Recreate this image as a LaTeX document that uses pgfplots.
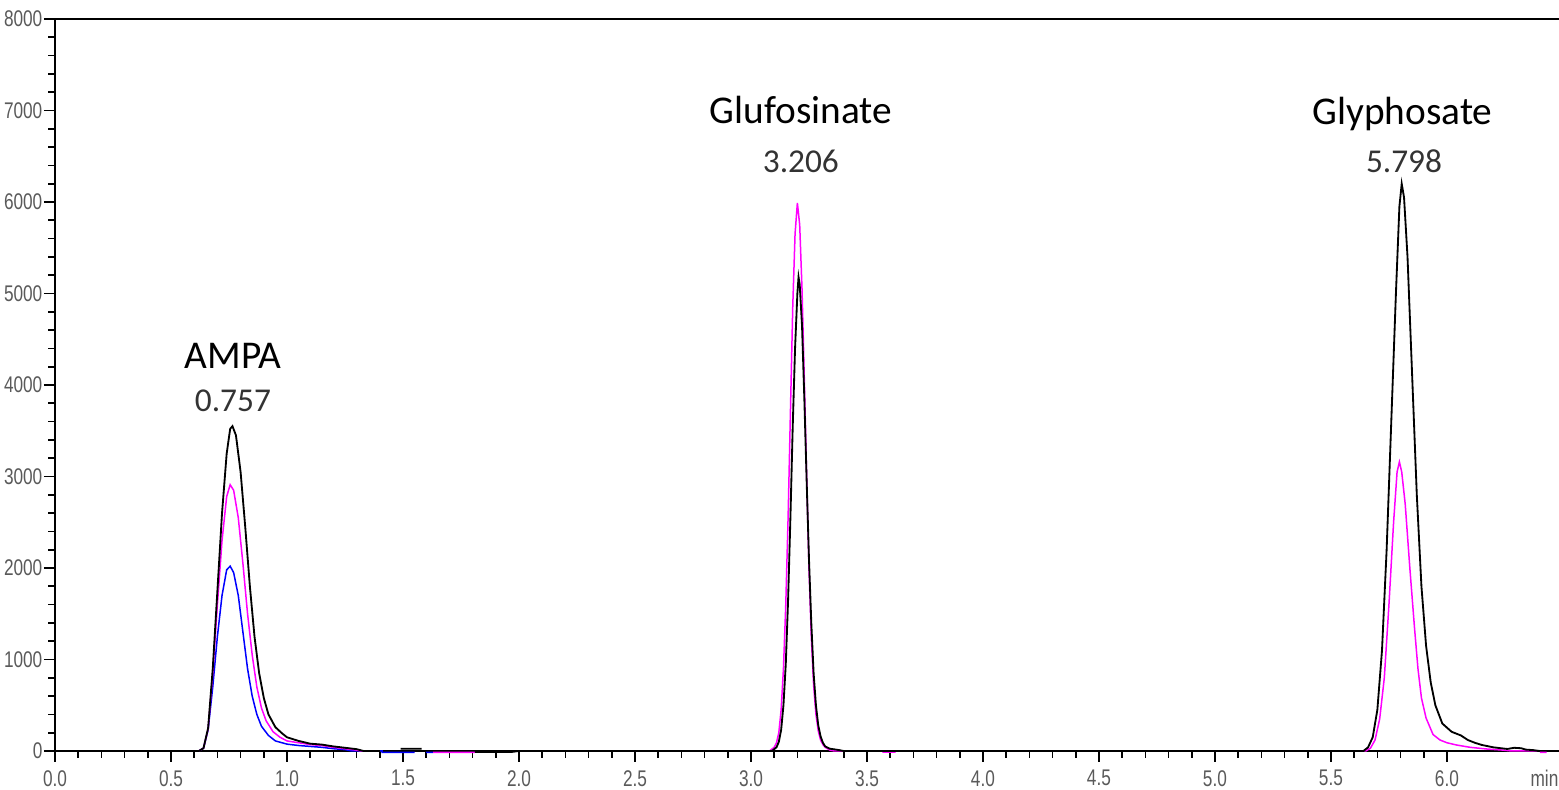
\documentclass[border=0pt]{standalone}
\usepackage{pgfplots}
\pgfplotsset{compat=1.18}
\usepackage{fontspec}
\newfontfamily\tickfont[FakeStretch=0.76]{Liberation Sans}
\newfontfamily\annfont{Carlito}
\definecolor{mag}{RGB}{255,0,255}
\definecolor{blu}{RGB}{0,0,255}
\definecolor{tickgray}{RGB}{90,90,90}
\begin{document}
\begin{tikzpicture}
\begin{axis}[
  name=ax,
  scale only axis,
  width=451.2pt, height=219.6pt,
  xmin=0, xmax=6.483,
  ymin=0, ymax=8000,
  axis x line*=bottom, axis y line*=left,
  axis line style={line width=0.6pt},
  clip=false,
  unbounded coords=jump,
  tick align=outside,
  major tick length=3.3pt, minor tick length=2pt,
  every tick/.style={black, line width=0.5pt},
  xtick={0,0.5,...,6.01}, minor x tick num=4,
  ytick={0,1000,...,8000}, minor y tick num=4,
  /pgf/number format/assume math mode=true,
  ticklabel style={font=\tickfont\fontsize{6.8}{8}\selectfont, text=tickgray},
  xticklabel style={/pgf/number format/fixed, /pgf/number format/fixed zerofill, /pgf/number format/precision=1, inner sep=0pt, yshift=-2.3pt},
  yticklabel style={/pgf/number format/1000 sep={}, inner sep=0pt, xshift=-0.3pt},
]
% blue series
\addplot[blu, line width=0.45pt] coordinates {
(0.10,0) (0.62,0) (0.64,30) (0.66,230) (0.68,700) (0.70,1250) (0.72,1700) (0.74,1980) (0.755,2020) (0.77,1950) (0.79,1700) (0.81,1300) (0.83,900) (0.85,600) (0.87,400) (0.89,270) (0.92,170) (0.95,110) (1.00,75) (1.05,60) (1.10,50) (1.15,40) (1.20,25) (1.25,15) (1.28,0) (1.41,0) (1.41,-15) (1.55,-15) (1.55,nan)
(1.60,-15) (1.63,-15)
};
% magenta series
\addplot[mag, line width=0.45pt] coordinates {
(0.10,0) (0.62,0) (0.64,30) (0.66,240) (0.68,850) (0.70,1600) (0.72,2300) (0.74,2780) (0.755,2910) (0.77,2850) (0.79,2550) (0.81,2050) (0.83,1500) (0.85,1050) (0.87,700) (0.89,470) (0.91,330) (0.94,210) (0.97,150) (1.00,110) (1.05,90) (1.10,70) (1.15,60) (1.20,40) (1.25,25) (1.30,10) (1.32,0) (1.38,0) (1.38,nan)
(1.63,-15) (1.81,-15) (1.81,nan)
(2.00,0) (3.08,0) (3.10,40) (3.11,90) (3.12,200) (3.13,450) (3.14,900) (3.15,1600) (3.16,2550) (3.17,3700) (3.18,4850) (3.19,5650) (3.20,5990) (3.21,5750) (3.22,5050) (3.23,4050) (3.24,3000) (3.25,2000) (3.26,1250) (3.27,720) (3.28,400) (3.29,220) (3.30,120) (3.31,70) (3.32,40) (3.34,10) (3.36,0) (3.57,0) (3.57,-12) (3.62,-12) (3.62,0)
(5.65,0) (5.67,30) (5.69,120) (5.71,350) (5.73,800) (5.75,1600) (5.77,2500) (5.785,3050) (5.795,3160) (5.805,3050) (5.82,2700) (5.84,2000) (5.86,1350) (5.875,900) (5.89,580) (5.91,360) (5.94,180) (5.97,120) (6.00,90) (6.04,66) (6.10,40) (6.17,22) (6.24,10) (6.28,0) (6.39,0) (6.39,nan)
(6.40,-15) (6.43,-15)
};
% black series
\addplot[black, line width=0.55pt] coordinates {
(0.10,0) (0.62,0) (0.64,30) (0.66,250) (0.68,900) (0.70,1750) (0.72,2600) (0.74,3250) (0.755,3520) (0.765,3550) (0.78,3450) (0.80,3050) (0.82,2450) (0.84,1800) (0.86,1250) (0.88,850) (0.90,580) (0.92,400) (0.95,260) (0.98,190) (1.00,150) (1.05,110) (1.10,80) (1.15,70) (1.20,50) (1.25,35) (1.30,20) (1.33,0) (1.40,0) (1.40,nan)
(1.49,25) (1.58,25) (1.58,nan)
(1.81,-10) (1.97,-10) (2.00,0) (3.09,0) (3.11,40) (3.12,100) (3.13,230) (3.14,500) (3.15,950) (3.16,1650) (3.17,2550) (3.18,3550) (3.19,4400) (3.20,5000) (3.205,5180) (3.21,5100) (3.22,4650) (3.23,3850) (3.24,2950) (3.25,2100) (3.26,1400) (3.27,850) (3.28,500) (3.29,280) (3.30,160) (3.31,90) (3.32,50) (3.34,25) (3.38,10) (3.40,0)
(5.64,0) (5.66,40) (5.68,150) (5.70,450) (5.72,1100) (5.74,2200) (5.76,3600) (5.78,5000) (5.795,5950) (5.805,6200) (5.815,6050) (5.83,5400) (5.85,4100) (5.87,2800) (5.89,1800) (5.91,1150) (5.93,750) (5.95,500) (5.98,300) (6.02,210) (6.06,170) (6.09,120) (6.12,90) (6.15,66) (6.20,40) (6.26,22) (6.29,35) (6.32,30) (6.34,15) (6.37,10) (6.40,0)
};
\draw[line width=0.6pt] (rel axis cs:0,1) -- (rel axis cs:1,1);
\node[anchor=north east, inner sep=0pt, font=\tickfont\fontsize{6.8}{8}\selectfont, text=tickgray, yshift=-5.6pt] at (rel axis cs:1,0) {min};
\node[anchor=base, font=\annfont\fontsize{11.8}{14}\selectfont] at (axis cs:0.767,4175) {AMPA};
\node[anchor=base, font=\annfont\fontsize{10}{12}\selectfont, text=black!80] at (axis cs:0.767,3705) {0.757};
\node[anchor=base, font=\annfont\fontsize{11.8}{14}\selectfont] at (axis cs:3.215,6863) {Glufosinate};
\node[anchor=base, font=\annfont\fontsize{10}{12}\selectfont, text=black!80] at (axis cs:3.215,6317) {3.206};
\node[anchor=base, font=\annfont\fontsize{11.8}{14}\selectfont] at (axis cs:5.808,6842) {Glyphosate};
\node[anchor=base, font=\annfont\fontsize{10}{12}\selectfont, text=black!80] at (axis cs:5.815,6317) {5.798};
\end{axis}
\pgfresetboundingbox
\path ([shift={(-16.5pt,-11.7pt)}]ax.south west) rectangle ([shift={(0pt,5.7pt)}]ax.north east);
\end{tikzpicture}
\end{document}
